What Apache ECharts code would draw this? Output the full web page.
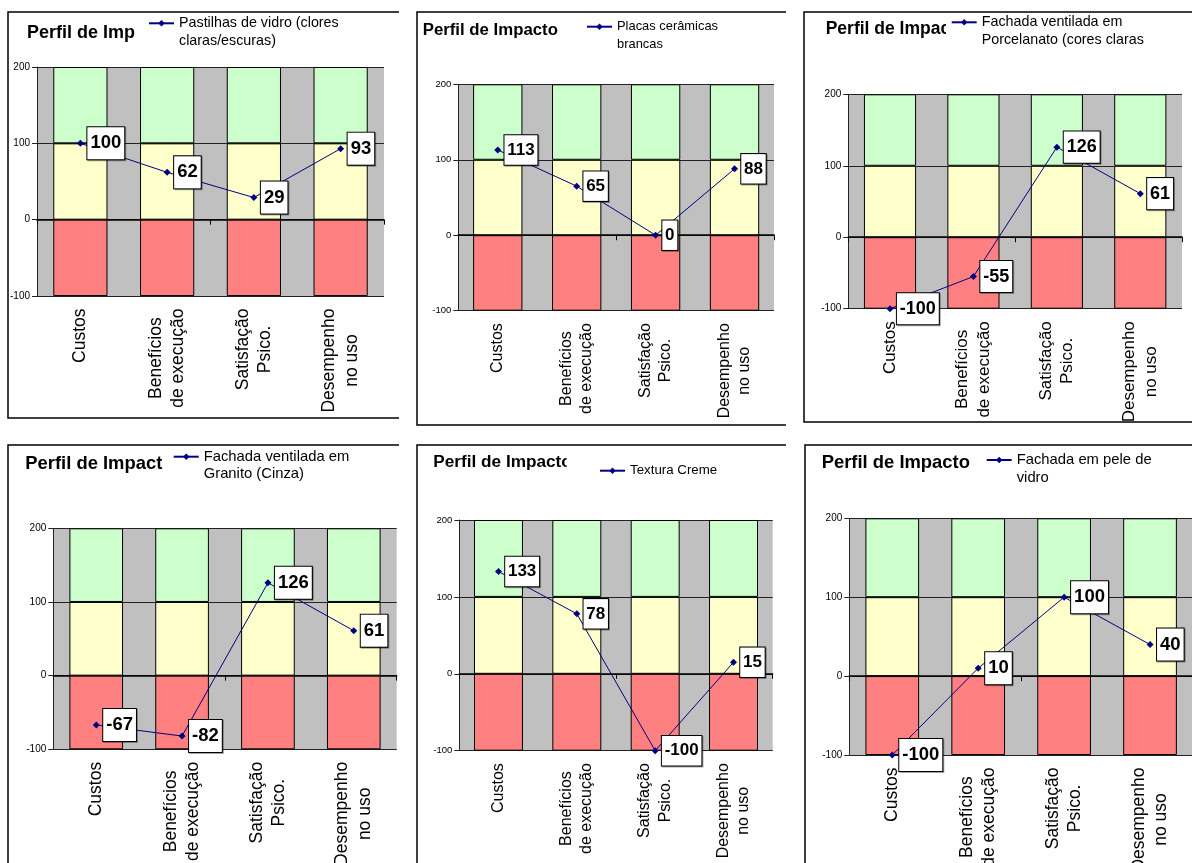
<!DOCTYPE html>
<html>
<head>
<meta charset="utf-8">
<script src="https://cdn.jsdelivr.net/npm/echarts@6/dist/echarts.min.js"></script>
<style>
  html, body { margin: 0; padding: 0; background: #fff; }
  #main { width: 1192px; height: 863px; }
</style>
</head>
<body>
<div id="main"></div>
<script>
// categorias e faixas de fundo
const categories = ['Custos', 'Benefícios\nde execução', 'Satisfação\nPsico.', 'Desempenho\nno uso'];
const yMin = -100, yMax = 200, yStep = 100;
const redBand = [-100, -100, -100, -100];
const yellowBand = [100, 100, 100, 100];
const greenBand = [100, 100, 100, 100];

// perfis (um por painel)
const seriesNames = [
  'Pastilhas de vidro (clores\nclaras/escuras)',
  'Placas cerâmicas\nbrancas',
  'Fachada ventilada em\nPorcelanato (cores claras',
  'Fachada ventilada em\nGranito (Cinza)',
  'Textura Creme',
  'Fachada em pele de\nvidro'
];
const pastilhas = [100, 62, 29, 93];
const placas = [113, 65, 0, 88];
const porcelanato = [-100, -55, 126, 61];
const granito = [-67, -82, 126, 61];
const textura = [133, 78, -100, 15];
const peleVidro = [-100, 10, 100, 40];
const profiles = [pastilhas, placas, porcelanato, granito, textura, peleVidro];

const FONT = '"Liberation Sans", Arial, sans-serif';
const LEG_LH = 17.5;

// posicao de cada painel na pagina
const layout = [
  { grid: [37, 67, 347, 229], title: [27, 23.7, 18], leg: { x: 135, lineX: 148, y: 23.3, fs: 14.3 },
    xFs: 17.5, dataFs: 18.5, yFs: 10, border: [[399, 12], [8, 12], [8, 418], [399, 418]] },
  { grid: [458.3, 84.3, 315.7, 226.4], title: [422.7, 21.6, 16.8], leg: { x: 565, lineX: 586, y: 26.7, fs: 12.9 },
    xFs: 16, dataFs: 17, yFs: 9.5, border: [[786, 12], [417, 12], [417, 425], [786, 425]] },
  { grid: [848.3, 94.3, 333.7, 214.4], title: [825.7, 20.3, 17.5], leg: { x: 946, lineX: 950.7, y: 22.3, fs: 14.3 },
    xFs: 17, dataFs: 18, yFs: 10, border: [[1192, 12], [804, 12], [804, 422], [1192, 422]] },
  { grid: [53.3, 528.3, 343.4, 221], title: [25.3, 455, 18.4], leg: { x: 163, lineX: 172.7, y: 456.7, fs: 14.8 },
    xFs: 17.5, dataFs: 18.5, yFs: 10, border: [[399, 445], [8, 445], [8, 863]] },
  { grid: [459.3, 520, 313.4, 230.7], title: [433.3, 453.7, 17.2], leg: { x: 566.7, lineX: 599, y: 470.7, fs: 13.3, pt: 12, pb: 8 },
    xFs: 16, dataFs: 17, yFs: 9.5, border: [[786, 445], [417, 445], [417, 863]] },
  { grid: [849.3, 518.3, 343.7, 236.7], title: [821.7, 454, 18.4], leg: { x: 975, lineX: 985.7, y: 460, fs: 14.8 },
    xFs: 17.5, dataFs: 18.5, yFs: 10, border: [[1192, 445], [805, 445], [805, 863]] }
];

const option = {
  animation: false,
  textStyle: { fontFamily: FONT },
  title: [], legend: [], grid: [], xAxis: [], yAxis: [], series: [], graphic: []
};

layout.forEach((p, i) => {
  const s = p.dataFs / 18.5;
  option.grid.push({
    left: p.grid[0], top: p.grid[1], width: p.grid[2], height: p.grid[3],
    show: true, backgroundColor: '#c0c0c0', borderWidth: 0,
    containLabel: false, outerBoundsMode: 'none'
  });
  // eixo com os rotulos (embaixo)
  option.xAxis.push({
    type: 'category', gridIndex: i, data: categories, position: 'bottom',
    axisLine: { show: false, onZero: false }, axisTick: { show: false },
    splitLine: { show: false },
    axisLabel: {
      rotate: 90, margin: 12.5, interval: 0,
      formatter: v => v.split('\n').map(t => '{c|' + t + '}').join('\n'),
      rich: { c: { align: 'center', fontSize: p.xFs, lineHeight: p.xFs * 1.28, color: '#000', fontFamily: FONT } }
    }
  });
  // linha do zero
  option.xAxis.push({
    type: 'category', gridIndex: i, data: categories, position: 'top',
    axisLine: { show: true, onZero: true, lineStyle: { color: '#000', width: 1.5 } },
    axisTick: { show: true, inside: true, length: 5, lineStyle: { color: '#000' } },
    axisLabel: { show: false }, splitLine: { show: false }
  });
  option.yAxis.push({
    type: 'value', gridIndex: i, min: yMin, max: yMax, interval: yStep,
    axisLine: { show: true, lineStyle: { color: '#222' } },
    axisTick: { show: true, length: 5, lineStyle: { color: '#222' } },
    axisLabel: { fontSize: p.yFs, color: '#000', margin: 7, fontFamily: FONT },
    splitLine: { show: true, lineStyle: { color: '#222', width: 1 } }
  });

  const bands = [[redBand, '#ff8080'], [yellowBand, '#ffffcc'], [greenBand, '#ccffcc']];
  bands.forEach(b => {
    option.series.push({
      type: 'bar', xAxisIndex: 2 * i, yAxisIndex: i, stack: 'band' + i,
      data: b[0], barCategoryGap: '37.5%', silent: true,
      itemStyle: { color: b[1], borderColor: '#000', borderWidth: 1 }
    });
  });
  option.series.push({
    type: 'line', name: seriesNames[i], xAxisIndex: 2 * i, yAxisIndex: i,
    data: profiles[i], symbol: 'diamond', symbolSize: 7, z: 5,
    itemStyle: { color: '#000080' }, lineStyle: { color: '#000080', width: 1 },
    label: {
      show: true, position: 'right', distance: 3.5 * s,
      fontSize: p.dataFs, fontWeight: 'bold', color: '#000', fontFamily: FONT,
      lineHeight: 19 * s, padding: [7 * s, 3 * s, 6 * s, 3 * s],
      backgroundColor: '#fff', borderColor: '#000', borderWidth: 1,
      shadowColor: 'rgba(0,0,0,0.35)', shadowOffsetX: 1, shadowOffsetY: 1, shadowBlur: 0
    }
  });

  option.title.push({
    text: 'Perfil de Impacto', left: p.title[0], top: p.title[1], padding: 0, z: 1,
    textStyle: { fontSize: p.title[2], fontWeight: 'bold', color: '#000', fontFamily: FONT }
  });

  const lg = p.leg;
  const twoLines = seriesNames[i].indexOf('\n') >= 0;
  const pt = lg.pt || 0, pb = lg.pb || 0;
  const contentTop = twoLines ? lg.y - 1.5 * LEG_LH : lg.y - LEG_LH / 2;
  option.legend.push({
    data: [seriesNames[i]], orient: 'vertical',
    left: lg.x, top: contentTop - pt, padding: [pt, 4, pb, lg.lineX - lg.x],
    backgroundColor: '#fff', z: 5, selectedMode: false,
    itemWidth: 25, itemHeight: 8,
    formatter: twoLines ? (n => '\n' + n) : (n => n),
    textStyle: { fontSize: lg.fs, lineHeight: LEG_LH, color: '#000', fontFamily: FONT }
  });

  option.graphic.push({
    type: 'polyline', silent: true, z: 100,
    shape: { points: p.border },
    style: { stroke: '#000', lineWidth: 1.5, fill: null }
  });
});

const chart = echarts.init(document.getElementById('main'), null, { renderer: 'canvas' });
chart.setOption(option);
</script>
</body>
</html>
